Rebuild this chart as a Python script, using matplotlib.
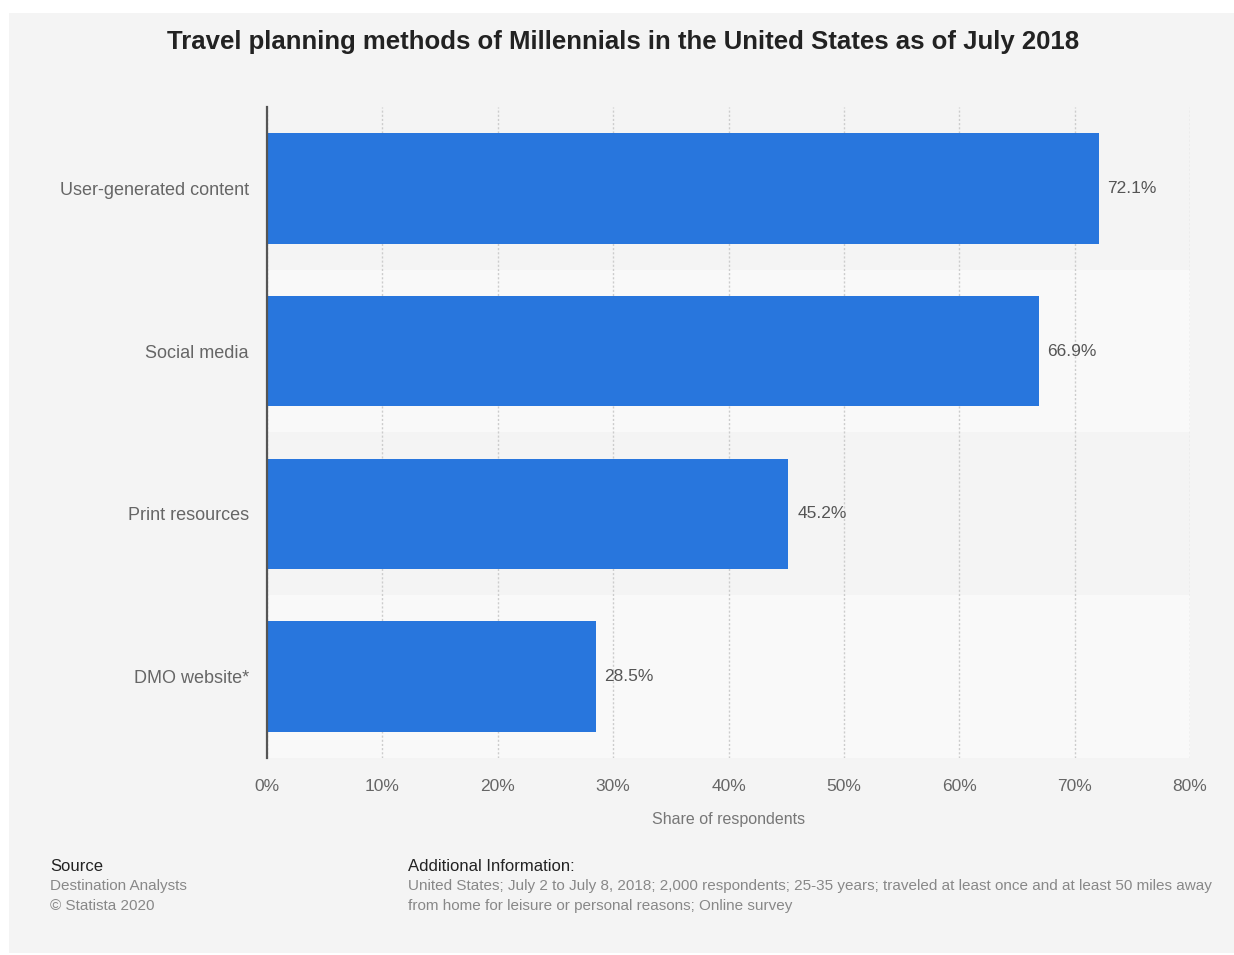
import matplotlib
matplotlib.use("Agg")
import matplotlib.pyplot as plt
from matplotlib.patches import Rectangle

categories = ["User-generated content", "Social media", "Print resources", "DMO website*"]
values = [72.1, 66.9, 45.2, 28.5]
xticks = [0, 10, 20, 30, 40, 50, 60, 70, 80]
xtick_labels = [f"{t}%" for t in xticks]

title = "Travel planning methods of Millennials in the United States as of July 2018"
xlabel = "Share of respondents"
source_lines = ["Destination Analysts", "\u00a9 Statista 2020"]
info_lines = ["United States; July 2 to July 8, 2018; 2,000 respondents; 25-35 years; traveled at least once and at least 50 miles away",
              "from home for leisure or personal reasons; Online survey"]

FONT = ["Liberation Sans", "DejaVu Sans"]
plt.rcParams['font.family'] = FONT

W, H = 1234, 955
fig = plt.figure(figsize=(W / 100, H / 100), dpi=100)
fig.patch.set_facecolor("white")

def fx(px):
    return px / W

def fy(py):
    return 1 - py / H

# grey panel
fig.patches.append(Rectangle((fx(9), fy(953)), 1 - fx(9), fy(13) - fy(953),
                             transform=fig.transFigure, facecolor="#f4f4f4",
                             edgecolor="none", zorder=-10))

ax = fig.add_axes([fx(267), fy(758), fx(1190) - fx(267), fy(107) - fy(758)])
ax.set_zorder(2)
ax.set_facecolor("none")

n = len(categories)
ypos = list(range(n))
for i in ypos:
    if i % 2 == 1:
        ax.axhspan(i - 0.5, i + 0.5, xmin=0, xmax=1, color="#f9f9f9", zorder=0, lw=0)

ax.barh(ypos, values, height=0.68, color="#2876dd", zorder=3)
for y, v in zip(ypos, values):
    ax.text(v + 0.75, y, f"{v}%", va="center", ha="left", fontsize=12.5, color="#555555", zorder=4)

ax.set_xlim(0, 80)
ax.set_ylim(n - 0.5, -0.5)
ax.set_xticks(xticks)
ax.set_xticklabels(xtick_labels, fontsize=12.5, color="#666666")
ax.set_yticks(ypos)
ax.set_yticklabels(categories, fontsize=13, color="#666666")
ax.tick_params(axis="both", length=0)
ax.tick_params(axis="x", pad=15)
ax.tick_params(axis="y", pad=13)
ax.xaxis.grid(True, linestyle=(0, (1.5, 1.5)), color="#cccccc", linewidth=1, zorder=1)
ax.set_axisbelow(True)
for s in ["top", "right", "bottom"]:
    ax.spines[s].set_visible(False)
ax.spines["left"].set_color("#555555")
ax.spines["left"].set_linewidth(1.6)
ax.spines["left"].set_zorder(5)
ax.set_xlabel(xlabel, fontsize=11.5, color="#777777", labelpad=13)

fig.text(fx(623), fy(42), title, ha="center", va="center", fontsize=18.5,
         fontweight="bold", color="#222222")

fig.text(fx(50), fy(866), "Source", ha="left", va="center", fontsize=12, color="#222222")
for k, line in enumerate(source_lines):
    fig.text(fx(50), fy(886 + 20 * k), line, ha="left", va="center", fontsize=11, color="#888888")
fig.text(fx(408), fy(866), "Additional Information:", ha="left", va="center", fontsize=12, color="#222222")
for k, line in enumerate(info_lines):
    fig.text(fx(408), fy(886 + 20 * k), line, ha="left", va="center", fontsize=11, color="#888888")

fig.savefig("out.png", dpi=100, facecolor=fig.get_facecolor())
